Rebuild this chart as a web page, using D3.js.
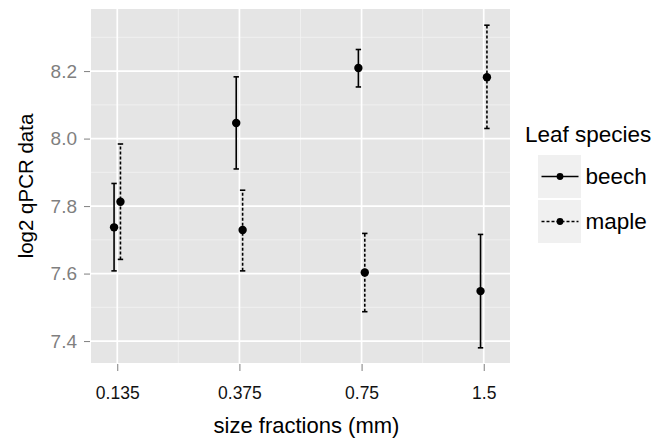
<!DOCTYPE html>
<html>
<head>
<meta charset="utf-8">
<script src="https://cdn.jsdelivr.net/npm/d3@7"></script>
<style>
  html, body { margin: 0; padding: 0; background: #ffffff; }
  svg { display: block; font-family: "Liberation Sans", Arial, Helvetica, sans-serif; }
</style>
</head>
<body>
<svg id="chart" width="666" height="439"></svg>
<script>
// ---- data ----
const categories = ["0.135", "0.375", "0.75", "1.5"];
const species = ["beech", "maple"];
const beechMean  = [7.737, 8.046, 8.209, 7.548];
const beechLower = [7.608, 7.910, 8.153, 7.380];
const beechUpper = [7.867, 8.183, 8.264, 7.716];
const mapleMean  = [7.813, 7.729, 7.603, 8.182];
const mapleLower = [7.642, 7.608, 7.487, 8.030];
const mapleUpper = [7.984, 7.847, 7.719, 8.336];
const yTicks = [7.4, 7.6, 7.8, 8.0, 8.2];
const yMinor = [7.5, 7.7, 7.9, 8.1, 8.3];
const xTitle = "size fractions (mm)";
const yTitle = "log2 qPCR data";
const legendTitle = "Leaf species";

const rows = [];
categories.forEach((c, i) => {
  rows.push({cat: c, sp: "beech", mean: beechMean[i], lo: beechLower[i], hi: beechUpper[i]});
  rows.push({cat: c, sp: "maple", mean: mapleMean[i], lo: mapleLower[i], hi: mapleUpper[i]});
});

// ---- layout ----
const panel = {left: 91, right: 510, top: 9, bottom: 363};
const svg = d3.select("#chart");

const x = d3.scalePoint().domain(categories).range([panel.left, panel.right]).padding(0.215);
const xMinor = categories.slice(1).map((c, i) => (x(categories[i]) + x(c)) / 2);
const dodge = d3.scalePoint().domain(species).range([-3.2, 3.2]);
const y = d3.scaleLinear().domain([7.335, 8.384]).range([panel.bottom, panel.top]);
const dash = {beech: null, maple: "3,2"};

// panel background
svg.append("rect")
  .attr("x", panel.left).attr("y", panel.top)
  .attr("width", panel.right - panel.left).attr("height", panel.bottom - panel.top)
  .attr("fill", "#E5E5E5");

// minor grid
const g = svg.append("g");
g.selectAll("line.hminor").data(yMinor).join("line")
  .attr("x1", panel.left).attr("x2", panel.right)
  .attr("y1", d => y(d)).attr("y2", d => y(d))
  .attr("stroke", "#F2F2F2").attr("stroke-width", 0.8);
g.selectAll("line.vminor").data(xMinor).join("line")
  .attr("y1", panel.top).attr("y2", panel.bottom)
  .attr("x1", d => d).attr("x2", d => d)
  .attr("stroke", "#F2F2F2").attr("stroke-width", 0.8);
// major grid
g.selectAll("line.hmajor").data(yTicks).join("line")
  .attr("x1", panel.left).attr("x2", panel.right)
  .attr("y1", d => y(d)).attr("y2", d => y(d))
  .attr("stroke", "#FFFFFF").attr("stroke-width", 1.7);
g.selectAll("line.vmajor").data(categories).join("line")
  .attr("y1", panel.top).attr("y2", panel.bottom)
  .attr("x1", d => x(d)).attr("x2", d => x(d))
  .attr("stroke", "#FFFFFF").attr("stroke-width", 1.7);

// axes
const yAxis = d3.axisLeft(y).tickValues(yTicks).tickFormat(d3.format(".1f"))
  .tickSizeInner(6).tickSizeOuter(0).tickPadding(7);
const yg = svg.append("g").attr("transform", `translate(${panel.left - 1},0)`).call(yAxis);
yg.select(".domain").remove();
yg.selectAll(".tick line").attr("stroke", "#7F7F7F").attr("stroke-width", 1);
yg.selectAll(".tick text").attr("fill", "#7F7F7F").attr("font-size", 19)
  .attr("font-family", "Liberation Sans, Arial, sans-serif");

const xAxis = d3.axisBottom(x).tickSizeInner(7).tickSizeOuter(0).tickPadding(16);
const xg = svg.append("g").attr("transform", `translate(0,${panel.bottom + 1})`).call(xAxis);
xg.select(".domain").remove();
xg.selectAll(".tick line").attr("stroke", "#7F7F7F").attr("stroke-width", 1);
xg.selectAll(".tick text").attr("fill", "#111").attr("font-size", 17.5)
  .attr("font-family", "Liberation Sans, Arial, sans-serif");

// axis titles
svg.append("text")
  .attr("x", (panel.left + panel.right) / 2 + 6).attr("y", 433)
  .attr("text-anchor", "middle").attr("font-size", 22).attr("fill", "#000")
  .text(xTitle);
svg.append("text")
  .attr("transform", `translate(33,${(panel.top + panel.bottom) / 2}) rotate(-90)`)
  .attr("text-anchor", "middle").attr("font-size", 20.5).attr("fill", "#000")
  .text(yTitle);

// error bars and points
const capW = 2.7;
const marks = svg.append("g");
const px = d => x(d.cat) + dodge(d.sp);
marks.selectAll("line.err").data(rows).join("line")
  .attr("x1", px).attr("x2", px)
  .attr("y1", d => y(d.lo)).attr("y2", d => y(d.hi))
  .attr("stroke", "#000").attr("stroke-width", 1.6)
  .attr("stroke-dasharray", d => dash[d.sp]);
marks.selectAll("line.capHi").data(rows).join("line")
  .attr("x1", d => px(d) - capW).attr("x2", d => px(d) + capW)
  .attr("y1", d => y(d.hi)).attr("y2", d => y(d.hi))
  .attr("stroke", "#000").attr("stroke-width", 1.6);
marks.selectAll("line.capLo").data(rows).join("line")
  .attr("x1", d => px(d) - capW).attr("x2", d => px(d) + capW)
  .attr("y1", d => y(d.lo)).attr("y2", d => y(d.lo))
  .attr("stroke", "#000").attr("stroke-width", 1.6);
marks.selectAll("circle").data(rows).join("circle")
  .attr("cx", px).attr("cy", d => y(d.mean)).attr("r", 4.2)
  .attr("fill", "#000");

// legend
const lg = svg.append("g");
lg.append("text").attr("x", 525).attr("y", 141.5)
  .attr("font-size", 22.5).attr("fill", "#000").text(legendTitle);
const keyTop = [155, 200];
const keyH = 43;
species.forEach((s, i) => {
  const ky = keyTop[i];
  lg.append("rect").attr("x", 538).attr("y", ky).attr("width", 43).attr("height", keyH)
    .attr("fill", "#F0F0F0");
  const cy = ky + keyH / 2;
  lg.append("line").attr("x1", 541.5).attr("x2", 578.5).attr("y1", cy).attr("y2", cy)
    .attr("stroke", "#000").attr("stroke-width", 1.6).attr("stroke-dasharray", dash[s]);
  lg.append("circle").attr("cx", 560).attr("cy", cy).attr("r", 3.4).attr("fill", "#000");
  lg.append("text").attr("x", 585.5).attr("y", cy + 7.5)
    .attr("font-size", 22.5).attr("fill", "#000").text(s);
});
</script>
</body>
</html>
